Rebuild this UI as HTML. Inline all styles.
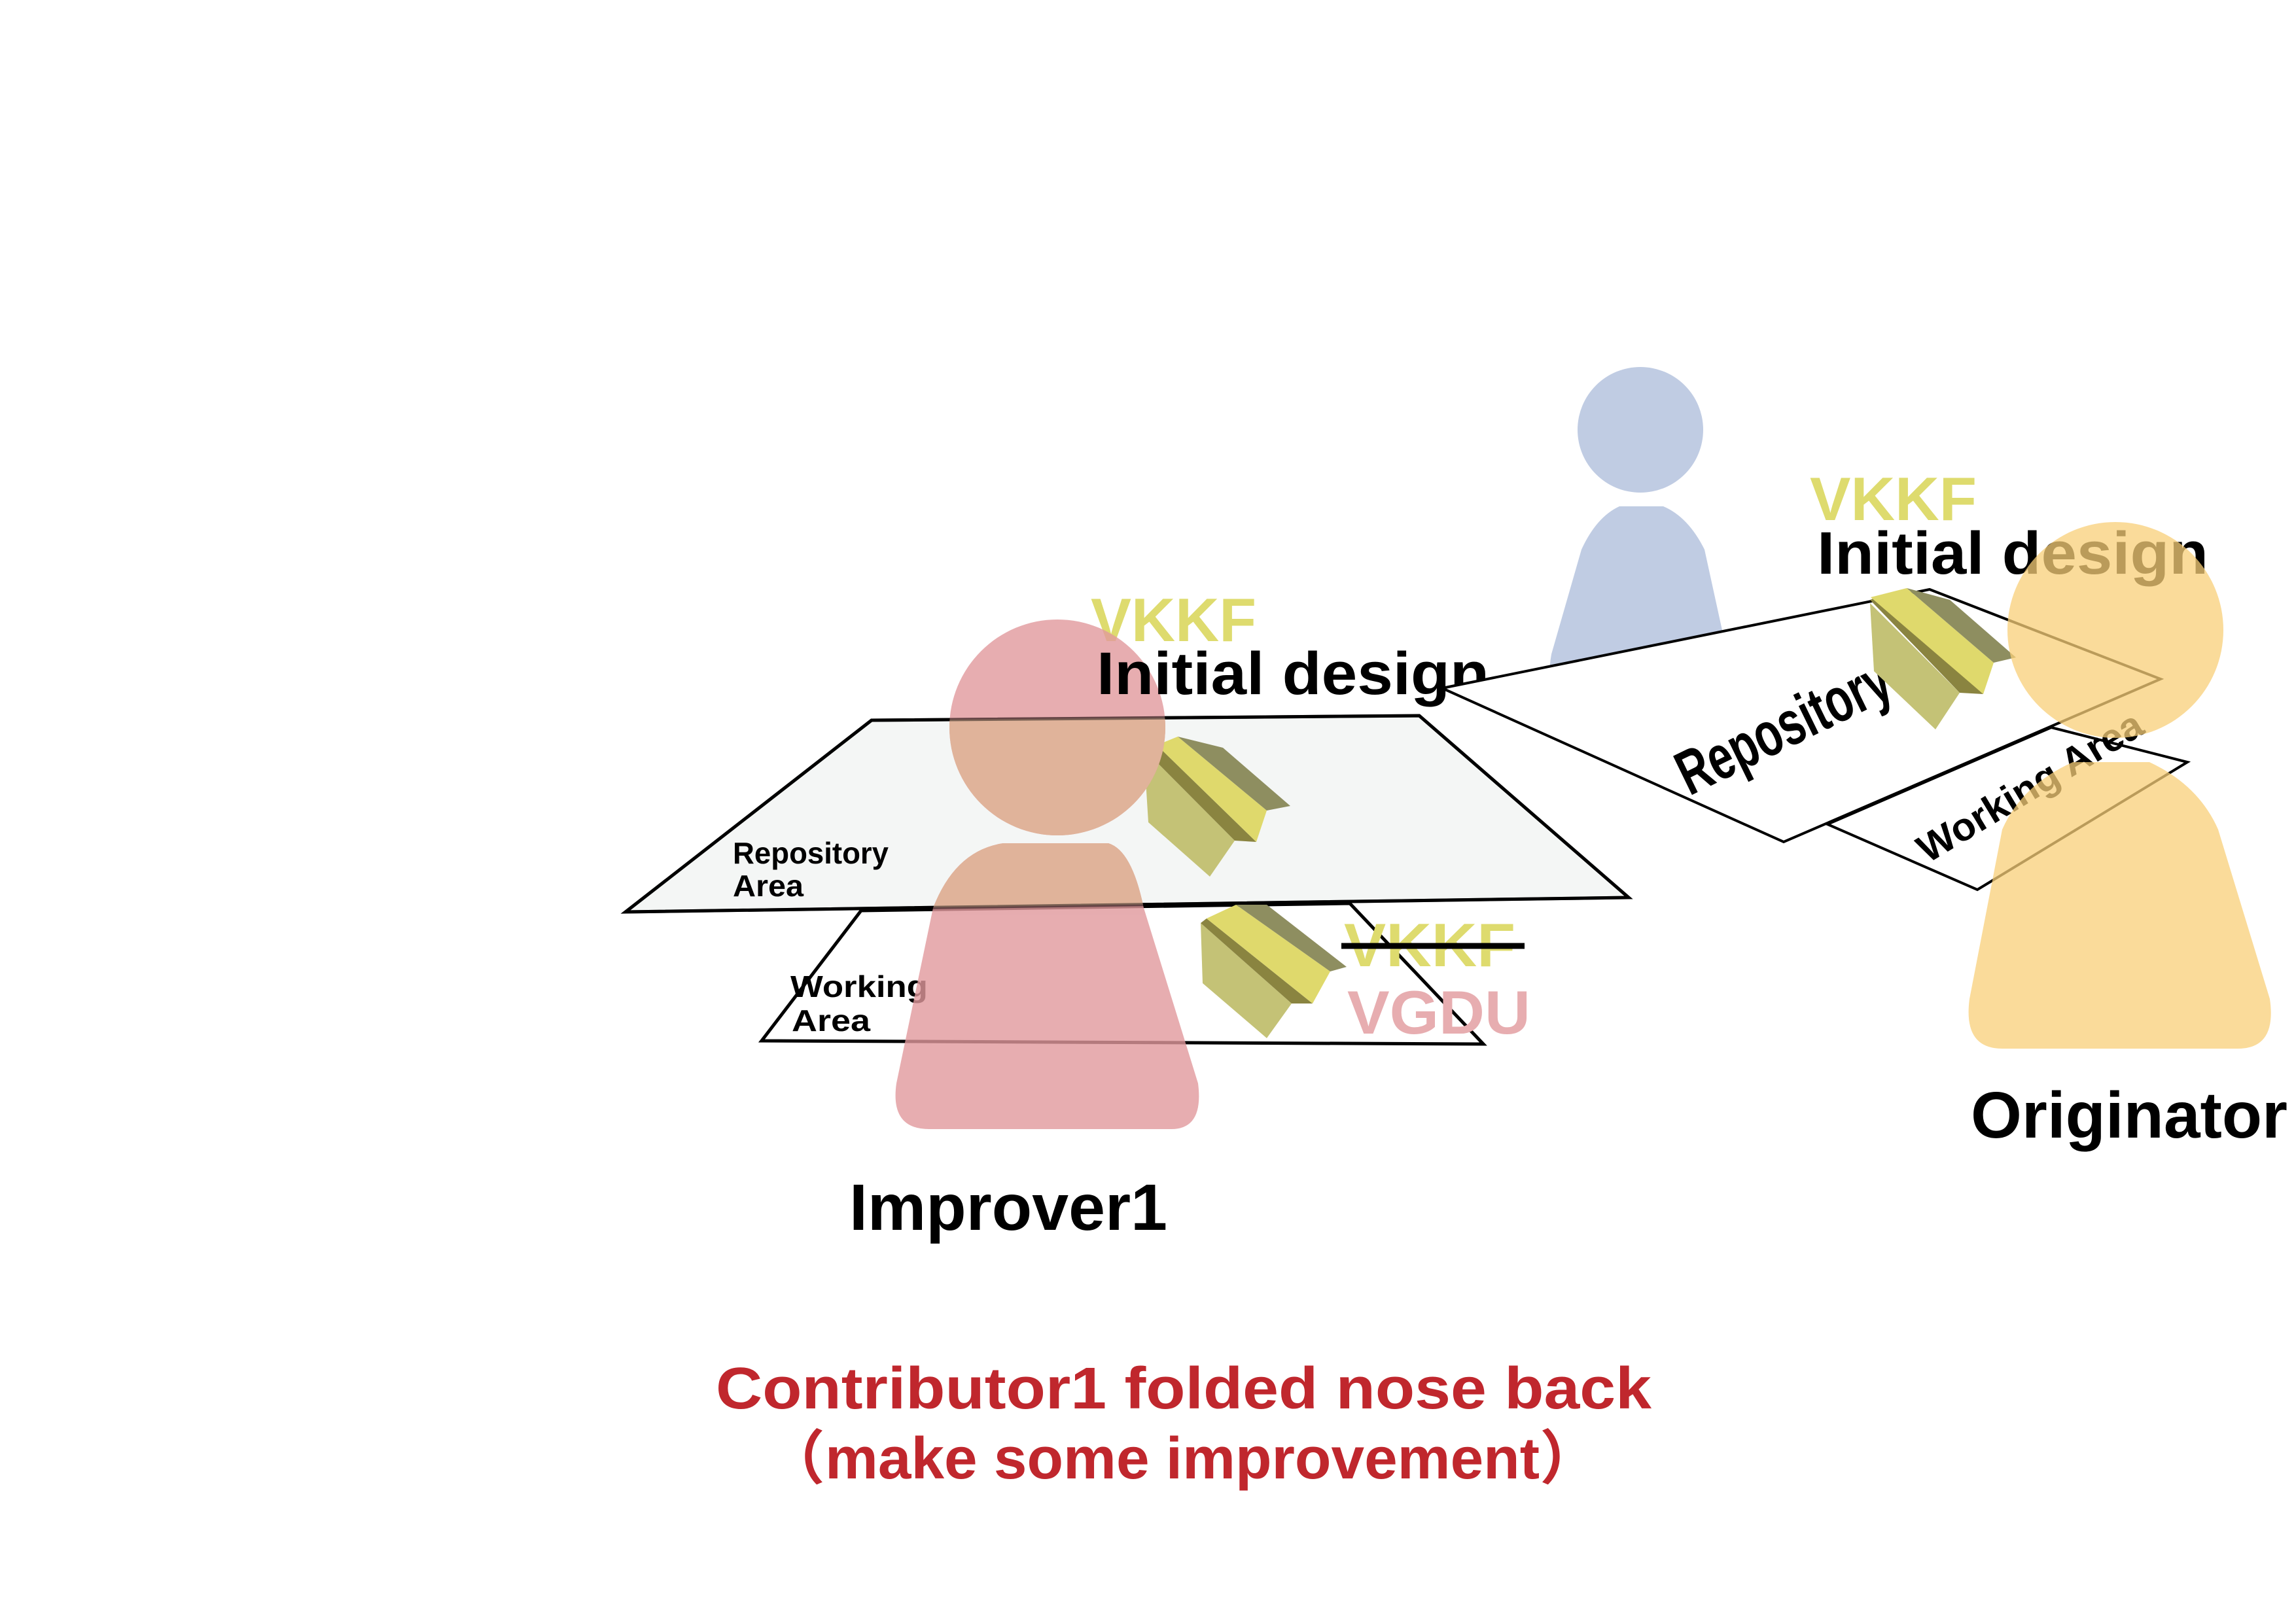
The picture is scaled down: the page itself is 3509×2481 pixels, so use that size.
<!DOCTYPE html>
<html><head><meta charset="utf-8"><style>
html,body{margin:0;padding:0;background:#fff;}
svg{display:block;}
text{font-family:"Liberation Sans","Noto Sans CJK SC",sans-serif;font-weight:bold;}
</style></head><body>
<svg width="3509" height="2481" viewBox="0 0 3509 2481" xmlns="http://www.w3.org/2000/svg">
<defs>
<clipPath id="repoL"><polygon points="1332,1101 2169,1094 2489,1372 956,1394"/></clipPath>
<g id="pinkP">
<circle cx="1616" cy="1112" r="165"/>
<path d="M1533,1289 L1694,1289 Q1730,1300 1748,1388 L1831,1656 Q1840,1726 1790,1726 L1420,1726 Q1360,1726 1370,1656 L1426,1388 Q1460,1300 1533,1289 Z"/>
</g>
</defs>

<polygon points="1316,1392 1164,1591 2267,1596 2063,1381" fill="#fff" stroke="#000" stroke-width="5"/>
<text x="1208" y="1524" font-size="46" textLength="210" lengthAdjust="spacingAndGlyphs">Working</text>
<text x="1210" y="1576" font-size="46" textLength="120" lengthAdjust="spacingAndGlyphs">Area</text>

<polygon points="1332,1101 2169,1094 2489,1372 956,1394" fill="#f4f6f5" stroke="#000" stroke-width="5"/>
<text x="1120" y="1320" font-size="46" textLength="238" lengthAdjust="spacingAndGlyphs">Repository</text>
<text x="1120" y="1370" font-size="46" textLength="108" lengthAdjust="spacingAndGlyphs">Area</text>

<polygon points="1748,1145 1755,1257 1849,1340 1887,1285" fill="#c4c276"/>
<polygon points="1748,1145 1887,1285 1920,1287 1768,1139" fill="#8a8440"/>
<polygon points="1768,1139 1800,1126 1936,1239 1920,1287" fill="#dfd96c"/>
<polygon points="1800,1126 1869,1143 1972,1232 1936,1239" fill="#8e8e60"/>

<polygon points="1835,1411 1838,1503 1936,1587 1974,1534" fill="#c4c276"/>
<polygon points="1835,1411 1974,1534 2006,1534 1844,1404" fill="#8a8440"/>
<polygon points="1844,1404 1889,1383 2033,1485 2006,1534" fill="#dfd96c"/>
<polygon points="1889,1383 1936,1383 2058,1478 2033,1485" fill="#8e8e60"/>

<text x="1667" y="980" font-size="94" fill="#dedb6e" textLength="253" lengthAdjust="spacingAndGlyphs">VKKF</text>

<text x="2054" y="1477" font-size="94" fill="#dedb6e" textLength="262" lengthAdjust="spacingAndGlyphs">VKKF</text>
<line x1="2050" y1="1446" x2="2330" y2="1446" stroke="#000" stroke-width="9"/>
<text x="2059" y="1580" font-size="94" fill="#e7adb0" textLength="280" lengthAdjust="spacingAndGlyphs">VGDU</text>

<use href="#pinkP" fill="#e1989c" opacity="0.8"/>
<g clip-path="url(#repoL)"><use href="#pinkP" fill="#e0b39a" opacity="1"/></g>
<polygon points="1332,1101 2169,1094 2489,1372 956,1394" fill="none" stroke="#000" stroke-width="5" opacity="0.45"/>

<text x="1676" y="1061" font-size="92" fill="#000" textLength="600" lengthAdjust="spacingAndGlyphs">Initial design</text>

<circle cx="2507" cy="657" r="96" fill="#c0cce3"/>
<path d="M2475,774 L2542,774 Q2580,790 2605,840 L2640,1000 Q2650,1080 2600,1080 L2400,1080 Q2360,1060 2371,1000 L2417,840 Q2440,790 2475,774 Z" fill="#c0cce3"/>

<polygon points="2793,1260 3022,1360 3343,1165 3135,1112" fill="#fff" stroke="#000" stroke-width="4"/>
<text x="0" y="0" font-size="60" transform="translate(3113,1220) rotate(-31)" text-anchor="middle" textLength="390" lengthAdjust="spacingAndGlyphs">Working Area</text>

<polygon points="2204,1052 2949,901 3302,1038 2726,1287" fill="#fff" stroke="#000" stroke-width="4"/>
<text x="0" y="0" font-size="96" transform="translate(2740,1140) rotate(-26) scale(0.8,1)" text-anchor="middle" textLength="440" lengthAdjust="spacingAndGlyphs">Repository</text>

<polygon points="2858,922 2864,1026 2958,1115 2995,1059" fill="#c4c276"/>
<polygon points="2858,917 2995,1059 3031,1061 2868,913" fill="#8a8440"/>
<polygon points="2859,913 2914,899 3047,1013 3031,1061" fill="#dfd96c"/>
<polygon points="2914,899 2980,917 3081,1005 3047,1013" fill="#8e8e60"/>

<text x="2766" y="795" font-size="94" fill="#dedb6e" textLength="255" lengthAdjust="spacingAndGlyphs">VKKF</text>
<text x="2777" y="877" font-size="92" fill="#000" textLength="598" lengthAdjust="spacingAndGlyphs">Initial design</text>

<g fill="#f8cf78" opacity="0.75">
<circle cx="3233" cy="963" r="165"/>
<path d="M3168,1165 L3285,1165 Q3360,1200 3390,1268 L3469,1527 Q3480,1603 3420,1603 L3060,1603 Q3000,1603 3010,1527 L3060,1268 Q3090,1200 3168,1165 Z"/>
</g>

<text x="1298" y="1880" font-size="100" fill="#000" textLength="486" lengthAdjust="spacingAndGlyphs">Improver1</text>
<text x="3012" y="1739" font-size="100" fill="#000" textLength="484" lengthAdjust="spacingAndGlyphs">Originator</text>

<text x="1094" y="2153" font-size="90" fill="#c0272d" textLength="1430" lengthAdjust="spacingAndGlyphs">Contributor1 folded nose back</text>
<text x="1170" y="2260" font-size="90" fill="#c0272d" textLength="1274" lengthAdjust="spacingAndGlyphs">（make some improvement）</text>
</svg>
</body></html>
